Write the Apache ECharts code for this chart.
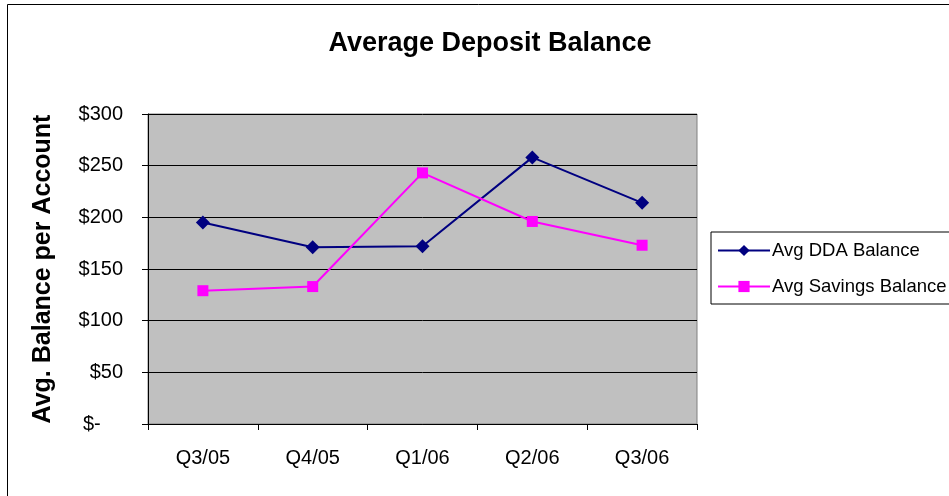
<!DOCTYPE html>
<html>
<head>
<meta charset="utf-8">
<script src="https://cdn.jsdelivr.net/npm/echarts@6/dist/echarts.min.js"></script>
<style>
  html, body { margin: 0; padding: 0; background: #fff; }
  #main { width: 949px; height: 496px; }
</style>
</head>
<body>
<div id="main"></div>
<script>
var quarters = ['Q3/05', 'Q4/05', 'Q1/06', 'Q2/06', 'Q3/06'];
var ddaBalance = [195, 171, 172, 258, 214];
var savingsBalance = [129, 133, 243, 196, 173];
var yTicks = [0, 300, 50]; // min, max, interval

var myChart = echarts.init(document.getElementById('main'));
var font = 'Liberation Sans, Arial, sans-serif';

var option = {
  animation: false,
  backgroundColor: '#fff',
  title: {
    text: 'Average Deposit Balance',
    left: 485, top: 25, textAlign: 'center',
    textStyle: { fontFamily: font, fontSize: 27, fontWeight: 'bold', color: '#000' }
  },
  graphic: [{
    type: 'rect',
    shape: { x: 7.5, y: 4.5, width: 960, height: 520 },
    style: { fill: 'none', stroke: '#000', lineWidth: 1 },
    z: -1
  }],
  legend: {
    orient: 'vertical',
    left: 711, top: 232,
    padding: [9, 30, 8, 6],
    itemGap: 17,
    itemWidth: 52, itemHeight: 14,
    borderColor: '#000', borderWidth: 1,
    backgroundColor: '#fff',
    textStyle: { fontFamily: font, fontSize: 18.5, color: '#000', padding: [0, 0, 0, -3] },
    data: ['Avg DDA Balance', 'Avg Savings Balance']
  },
  grid: { left: 148, right: 252, top: 114, bottom: 72, show: true,
          backgroundColor: '#c0c0c0', borderColor: '#808080', borderWidth: 1 },
  xAxis: {
    type: 'category',
    data: quarters,
    boundaryGap: true,
    axisLine: { lineStyle: { color: '#000', width: 1 } },
    axisTick: { show: true, inside: false, length: 6, lineStyle: { color: '#000' } },
    axisLabel: { fontFamily: font, fontSize: 20, color: '#000', margin: 24 }
  },
  yAxis: {
    type: 'value',
    min: yTicks[0], max: yTicks[1], interval: yTicks[2],
    name: 'Avg. Balance per Account',
    nameLocation: 'middle',
    nameGap: 92,
    nameTextStyle: { fontFamily: font, fontSize: 25, fontWeight: 'bold', color: '#000' },
    axisLine: { show: true, lineStyle: { color: '#000', width: 1 } },
    axisTick: { show: true, inside: false, length: 6, lineStyle: { color: '#000' } },
    axisLabel: {
      fontFamily: font, fontSize: 20, color: '#000', margin: 25,
      formatter: function (v) { return v === 0 ? '$-    ' : '$' + v; }
    },
    splitLine: { lineStyle: { color: '#000', width: 1 } }
  },
  series: [{
    name: 'Avg DDA Balance',
    type: 'line',
    data: ddaBalance,
    symbol: 'diamond',
    symbolSize: 14,
    lineStyle: { color: '#000080', width: 2 },
    itemStyle: { color: '#000080' }
  }, {
    name: 'Avg Savings Balance',
    type: 'line',
    data: savingsBalance,
    symbol: 'rect',
    symbolSize: 11,
    lineStyle: { color: '#ff00ff', width: 2 },
    itemStyle: { color: '#ff00ff' }
  }]
};

myChart.setOption(option);
</script>
</body>
</html>
